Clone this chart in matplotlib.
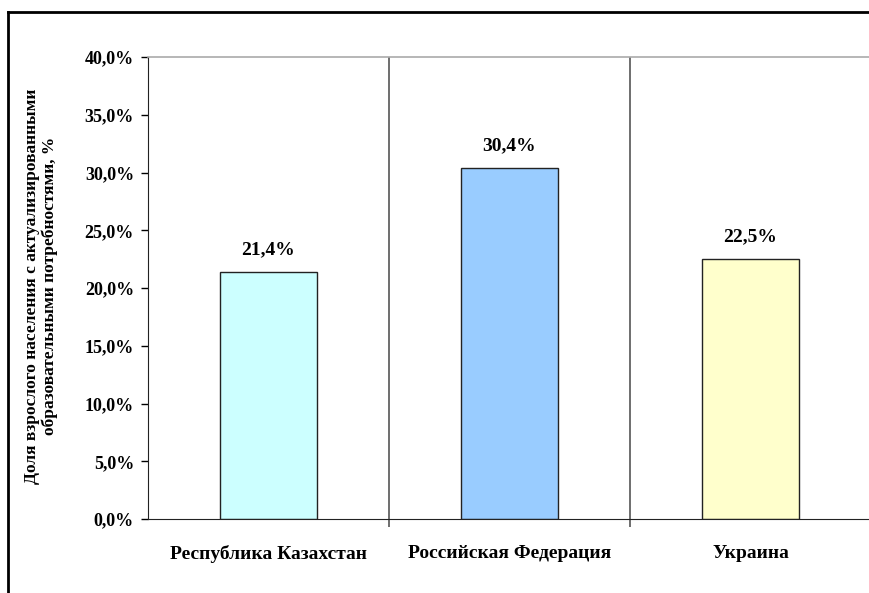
import matplotlib.pyplot as plt
from matplotlib.lines import Line2D
from matplotlib.ticker import FuncFormatter, FixedLocator

countries = ['Республика Казахстан', 'Российская Федерация', 'Украина']
values = [21.4, 30.4, 22.5]
colors = ['#CCFFFF', '#99CCFF', '#FFFFCC']
ylabel = 'Доля взрослого населения с актуализированными\nобразовательными потребностями, %'

plt.rcParams['font.family'] = ['Liberation Serif', 'DejaVu Serif']
plt.rcParams['font.weight'] = 'bold'

fig = plt.figure(figsize=(8.7, 5.93), dpi=100)
ax = fig.add_axes([148 / 870, 1 - 519 / 593, 723 / 870, 462 / 593])

x = list(range(len(countries)))
ax.bar(x, values, width=0.4, color=colors, edgecolor='#222222', linewidth=1)

for xi, v in zip(x, values):
    ax.text(xi, v + 1.2, f'{v:.1f}%'.replace('.', ','), ha='center', va='bottom',
            fontsize=14, fontweight='bold')

for b in [0.5, 1.5]:
    ax.axvline(b, color='#555555', linewidth=1.2)

ax.set_xlim(-0.5, 2.5)
ax.set_ylim(0, 40)
ax.set_yticks(range(0, 41, 5))
ax.yaxis.set_major_formatter(FuncFormatter(lambda v, p: f'{v:.1f}%'.replace('.', ',')))
ax.set_xticks(x)
ax.set_xticklabels(countries, fontsize=14, fontweight='bold')
ax.xaxis.set_minor_locator(FixedLocator([0.5, 1.5]))
ax.tick_params(axis='x', which='major', length=0, pad=19)
ax.tick_params(axis='x', which='minor', length=6, width=1.2, color='#555555', direction='out')
ax.tick_params(axis='y', length=5, width=1, labelsize=13, pad=5)
for lab in ax.get_yticklabels():
    lab.set_fontweight('bold')

ax.spines['right'].set_visible(False)
ax.spines['top'].set_color('#aaaaaa')
ax.spines['top'].set_linewidth(1.2)
ax.spines['left'].set_color('#222222')
ax.spines['bottom'].set_color('#222222')

fig.text(41 / 870, 1 - 286 / 593, ylabel, rotation=90, ha='center', va='center',
         fontsize=12.5, fontweight='bold', linespacing=1.1)

# frame around the chart
fig.add_artist(Line2D([8 / 870, 8 / 870], [0, 1 - 12 / 593], color='black', linewidth=2,
                      transform=fig.transFigure))
fig.add_artist(Line2D([8 / 870, 1], [1 - 12 / 593, 1 - 12 / 593], color='black', linewidth=2,
                      transform=fig.transFigure))

fig.savefig('out.png', dpi=100)
